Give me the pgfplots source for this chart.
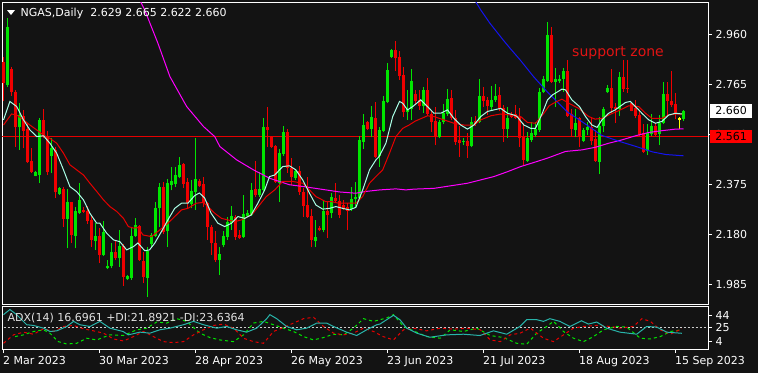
\documentclass[border=0pt]{standalone}
\usepackage{pgfplots}
\pgfplotsset{compat=1.18}
\usepackage{pgfplotstable}
\usepackage{fontspec}
\setmainfont{DejaVu Sans}
\definecolor{bg}{RGB}{19,19,19}
\definecolor{bullc}{RGB}{0,230,0}
\definecolor{bearc}{RGB}{240,0,0}
\definecolor{maw}{RGB}{170,255,230}
\definecolor{mar}{RGB}{230,0,0}
\definecolor{mam}{RGB}{255,0,255}
\definecolor{mab}{RGB}{20,20,240}
\definecolor{adxc}{RGB}{40,180,170}
\definecolor{pdi}{RGB}{0,230,0}
\definecolor{mdi}{RGB}{230,0,0}
\definecolor{dojic}{RGB}{255,255,0}
\newcommand\fs{\fontsize{11bp}{13bp}\selectfont}

\pgfplotstableread{
i O H L C
1 2.762 3.021 2.755 2.989
4 2.596 2.690 2.508 2.645
8 2.408 2.425 2.405 2.420
9 2.411 2.632 2.378 2.625
12 2.486 2.553 2.417 2.517
14 2.337 2.365 2.333 2.359
16 2.238 2.355 2.124 2.304
18 2.174 2.287 2.124 2.268
19 2.261 2.378 2.258 2.313
23 2.154 2.222 2.118 2.173
25 2.099 2.232 2.095 2.189
26 2.046 2.079 2.043 2.056
27 2.056 2.144 2.046 2.108
29 2.085 2.196 2.053 2.134
31 2.004 2.020 2.000 2.018
32 2.008 2.209 2.001 2.173
33 2.173 2.241 2.170 2.215
36 2.010 2.131 1.936 2.113
37 2.141 2.183 2.131 2.176
38 2.173 2.306 2.170 2.280
39 2.280 2.380 2.209 2.365
41 2.190 2.393 2.131 2.378
42 2.370 2.443 2.350 2.388
43 2.374 2.443 2.365 2.410
44 2.404 2.482 2.397 2.450
47 2.297 2.391 2.280 2.348
48 2.345 2.554 2.274 2.394
54 2.079 2.131 2.020 2.101
55 2.137 2.190 2.128 2.174
56 2.170 2.248 2.157 2.226
57 2.222 2.290 2.196 2.251
60 2.170 2.332 2.166 2.257
61 2.252 2.274 2.248 2.261
62 2.255 2.378 2.252 2.352
64 2.332 2.423 2.326 2.356
65 2.352 2.631 2.346 2.596
69 2.378 2.511 2.306 2.495
70 2.492 2.602 2.485 2.577
73 2.398 2.430 2.391 2.425
78 2.151 2.235 2.131 2.167
80 2.196 2.313 2.186 2.268
82 2.261 2.339 2.241 2.326
87 2.277 2.365 2.271 2.316
88 2.316 2.384 2.287 2.326
89 2.322 2.563 2.313 2.547
90 2.540 2.648 2.511 2.605
92 2.590 2.680 2.560 2.635
94 2.486 2.596 2.443 2.586
95 2.583 2.719 2.579 2.699
96 2.696 2.846 2.690 2.820
97 2.872 2.900 2.866 2.898
101 2.654 2.742 2.625 2.668
102 2.667 2.823 2.625 2.775
105 2.680 2.755 2.651 2.742
109 2.557 2.625 2.553 2.618
110 2.616 2.686 2.609 2.651
111 2.648 2.746 2.641 2.707
115 2.537 2.553 2.527 2.543
117 2.524 2.638 2.518 2.616
119 2.616 2.785 2.612 2.719
122 2.677 2.758 2.664 2.703
123 2.703 2.765 2.696 2.719
126 2.590 2.677 2.556 2.634
131 2.465 2.579 2.462 2.556
132 2.547 2.615 2.540 2.573
133 2.566 2.618 2.560 2.588
134 2.586 2.748 2.579 2.733
135 2.732 2.797 2.729 2.784
136 2.778 3.008 2.774 2.956
138 2.774 2.826 2.677 2.785
139 2.775 2.800 2.770 2.785
140 2.785 2.826 2.735 2.816
143 2.586 2.667 2.560 2.612
145 2.544 2.592 2.540 2.586
146 2.586 2.618 2.566 2.599
149 2.462 2.638 2.414 2.600
150 2.600 2.677 2.576 2.668
151 2.732 2.762 2.729 2.751
154 2.667 2.810 2.641 2.794
161 2.502 2.609 2.488 2.573
162 2.570 2.648 2.562 2.602
164 2.570 2.644 2.527 2.612
165 2.612 2.774 2.609 2.726
170 2.629 2.665 2.622 2.660
}\bulldata

\pgfplotstableread{
i O H L C
0 2.850 2.870 2.700 2.770
2 2.823 2.830 2.720 2.732
3 2.735 2.740 2.521 2.596
5 2.641 2.664 2.514 2.583
6 2.589 2.612 2.456 2.459
7 2.465 2.514 2.417 2.420
10 2.625 2.668 2.553 2.560
11 2.563 2.580 2.410 2.420
13 2.508 2.521 2.320 2.342
15 2.356 2.365 2.209 2.238
17 2.303 2.305 2.144 2.177
20 2.274 2.287 2.261 2.265
21 2.268 2.290 2.220 2.229
22 2.235 2.254 2.131 2.157
24 2.173 2.203 2.066 2.099
28 2.108 2.157 2.079 2.085
30 2.134 2.140 1.978 2.014
34 2.212 2.215 2.076 2.079
35 2.076 2.110 1.988 2.011
40 2.365 2.381 2.180 2.188
45 2.453 2.456 2.359 2.374
46 2.382 2.397 2.277 2.300
49 2.387 2.394 2.365 2.369
50 2.375 2.404 2.287 2.300
51 2.300 2.306 2.157 2.209
52 2.209 2.216 2.098 2.144
53 2.144 2.190 2.072 2.079
58 2.248 2.254 2.157 2.170
59 2.176 2.196 2.160 2.166
63 2.355 2.463 2.326 2.331
66 2.596 2.677 2.521 2.586
67 2.557 2.563 2.515 2.521
68 2.524 2.527 2.378 2.381
71 2.577 2.589 2.417 2.437
72 2.437 2.476 2.371 2.404
74 2.425 2.446 2.332 2.342
75 2.342 2.358 2.248 2.290
76 2.294 2.404 2.241 2.248
77 2.251 2.277 2.128 2.157
79 2.204 2.212 2.190 2.196
81 2.268 2.306 2.166 2.255
83 2.320 2.378 2.303 2.307
84 2.309 2.332 2.241 2.255
85 2.293 2.313 2.274 2.278
86 2.287 2.300 2.196 2.271
91 2.616 2.621 2.586 2.590
93 2.631 2.694 2.475 2.482
98 2.898 2.933 2.816 2.865
99 2.869 2.892 2.781 2.798
100 2.800 2.833 2.638 2.654
103 2.726 2.742 2.683 2.700
104 2.703 2.742 2.664 2.680
106 2.742 2.788 2.641 2.648
107 2.648 2.664 2.576 2.618
108 2.622 2.677 2.527 2.557
112 2.712 2.742 2.625 2.631
113 2.631 2.664 2.527 2.540
114 2.547 2.602 2.482 2.534
116 2.543 2.573 2.478 2.524
118 2.621 2.641 2.602 2.608
120 2.719 2.752 2.677 2.699
121 2.703 2.713 2.644 2.680
124 2.722 2.752 2.658 2.667
125 2.670 2.683 2.540 2.590
127 2.648 2.654 2.631 2.638
128 2.647 2.683 2.628 2.634
129 2.638 2.670 2.521 2.556
130 2.563 2.612 2.446 2.469
137 2.956 2.989 2.768 2.774
141 2.814 2.859 2.638 2.641
142 2.648 2.667 2.560 2.589
144 2.631 2.638 2.518 2.563
147 2.599 2.631 2.527 2.544
148 2.551 2.586 2.462 2.465
152 2.749 2.824 2.651 2.673
153 2.677 2.690 2.612 2.668
155 2.794 2.859 2.735 2.745
156 2.751 2.859 2.729 2.745
157 2.690 2.696 2.658 2.661
158 2.673 2.703 2.631 2.641
159 2.644 2.664 2.562 2.566
160 2.573 2.609 2.495 2.501
163 2.603 2.612 2.562 2.566
166 2.726 2.771 2.644 2.699
167 2.699 2.816 2.677 2.683
168 2.686 2.729 2.628 2.648
}\beardata

\pgfplotstableread{
i O H L C
169 2.6265 2.635 2.589 2.6305
}\dojidata

\pgfplotsset{
  wick/.style={only marks, mark=*, mark size=0pt, mark options={draw=none, fill=none}, forget plot,
    error bars/.cd, y dir=plus, y explicit, error mark=none,
    error bar style={line width=1bp, solid}},
  body/.style={only marks, mark=*, mark size=0pt, mark options={draw=none, fill=none}, forget plot,
    error bars/.cd, y dir=plus, y explicit, error mark=none,
    error bar style={line width=3bp, solid}},
}

\begin{document}
\begin{tikzpicture}
\useasboundingbox (0,0) rectangle (758bp,-373bp);
\fill[bg] (0,0) rectangle (758bp,-373bp);

\begin{axis}[
  at={(2bp,-2bp)}, anchor=north west,
  scale only axis, width=706bp, height=302bp,
  xmin=-0.375, xmax=176.125, ymin=1.907, ymax=3.0848,
  axis line style={white, line width=1bp},
  xtick=\empty,
  ytick={1.985,2.180,2.375,2.570,2.765,2.960},
  yticklabels={1.985,2.180,2.375,2.570,2.765,2.960},
  ytick pos=right, yticklabel pos=right,
  tick align=outside, major tick length=4bp,
  tick style={white, line width=1bp},
  yticklabel style={font=\fs, text=white, anchor=west},
  clip mode=individual,
]
\addplot[mar, line width=1bp, forget plot] coordinates {(-1,2.561) (177,2.561)};

\addplot[bullc, wick] table[x=i, y=L, y error expr=\thisrow{H}-\thisrow{L}] {\bulldata};
\addplot[bullc, body] table[x=i, y=O, y error expr=\thisrow{C}-\thisrow{O}] {\bulldata};
\addplot[bearc, wick] table[x=i, y=L, y error expr=\thisrow{H}-\thisrow{L}] {\beardata};
\addplot[bearc, body] table[x=i, y=C, y error expr=\thisrow{O}-\thisrow{C}] {\beardata};
\addplot[dojic, wick] table[x=i, y=L, y error expr=\thisrow{H}-\thisrow{L}] {\dojidata};
\addplot[dojic, body] table[x=i, y=O, y error expr=\thisrow{C}-\thisrow{O}] {\dojidata};

% long MA (magenta)
\addplot[mam, line width=1bp] coordinates {
(33.5,3.11)(35.3,3.054)(38.6,2.924)(41.6,2.794)(45.8,2.677)(50,2.599)(52.8,2.56)(54.1,2.521)(58.3,2.469)(62.5,2.43)(66.6,2.397)(71.5,2.372)(75,2.365)(80.6,2.352)(84,2.344)(88.1,2.339)(90.6,2.346)(94.1,2.352)(98.1,2.356)(100.6,2.352)(102.6,2.355)(107.6,2.358)(111.8,2.368)(116,2.378)(119.3,2.391)(122.6,2.404)(126,2.423)(129.3,2.443)(132.6,2.459)(136,2.476)(140.5,2.502)(144.6,2.508)(147.9,2.518)(151.3,2.534)(154.6,2.547)(158,2.563)(161.3,2.576)(164.6,2.583)(168,2.589)(170,2.59)};
% blue line
\addplot[mab, line width=1bp] coordinates {
(117.5,3.10)(119.3,3.054)(121.6,3.002)(124.9,2.937)(126.6,2.905)(129.1,2.86)(132.5,2.794)(135.9,2.735)(137.5,2.71)(141,2.655)(143.5,2.63)(146.3,2.60)(149.5,2.565)(153.8,2.542)(158,2.522)(162.3,2.50)(165.6,2.49)(170,2.485)};
% red MA
\addplot[mar, line width=1bp] coordinates {
(0,2.605)(2,2.648)(3.3,2.644)(5,2.625)(6.6,2.605)(8.3,2.586)(10,2.566)(11.6,2.553)(13.3,2.534)(15,2.495)(16.6,2.45)(18.3,2.43)(20,2.41)(21.6,2.378)(23.3,2.346)(25,2.313)(26.6,2.287)(28.3,2.268)(30,2.241)(31.2,2.209)(32.5,2.203)(33.6,2.205)(34.9,2.176)(37,2.17)(38.6,2.19)(41.1,2.222)(42.8,2.248)(44.5,2.274)(46.1,2.28)(48.2,2.30)(49.9,2.303)(51.1,2.287)(52.8,2.261)(54.5,2.241)(56.1,2.235)(57.8,2.228)(59.5,2.235)(61.1,2.248)(62.4,2.261)(64,2.293)(65.7,2.326)(67.8,2.352)(69.8,2.385)(72.3,2.385)(74.8,2.378)(76.5,2.352)(78.1,2.326)(80.6,2.306)(82.1,2.306)(83.8,2.30)(86.5,2.30)(88.1,2.30)(89.8,2.326)(91.5,2.378)(93.1,2.404)(94.8,2.43)(96.5,2.495)(98.1,2.56)(99.8,2.592)(101.4,2.605)(102.9,2.62)(106,2.641)(107.6,2.638)(110.1,2.625)(112.6,2.612)(115.1,2.605)(117.6,2.605)(119.3,2.625)(121.8,2.641)(124.3,2.648)(126.8,2.644)(129.3,2.638)(131,2.615)(133,2.612)(135.1,2.651)(136.4,2.68)(137.5,2.69)(139.6,2.706)(141.3,2.69)(143.8,2.67)(146.3,2.638)(147.9,2.628)(149.6,2.631)(151.3,2.644)(153.8,2.661)(156.3,2.68)(158.8,2.677)(160.5,2.651)(162.1,2.631)(164.6,2.631)(166.3,2.644)(168,2.648)(169.6,2.648)};
% fast MA (light)
\addplot[maw, line width=1bp] coordinates {
(0,2.625)(1.6,2.697)(3.3,2.677)(5,2.625)(6.6,2.586)(8.3,2.56)(10,2.563)(11.6,2.534)(13.3,2.495)(15,2.43)(16.6,2.365)(18.3,2.345)(20,2.313)(21.6,2.261)(23.3,2.222)(24.1,2.222)(25.8,2.183)(27.5,2.157)(29.1,2.15)(30.8,2.118)(32.5,2.131)(33.6,2.145)(35.3,2.115)(36.5,2.118)(37.8,2.144)(39.5,2.19)(41.1,2.235)(42.8,2.28)(44.5,2.30)(46.1,2.30)(47.8,2.33)(49,2.34)(50.3,2.32)(51.9,2.261)(53.6,2.222)(55.3,2.209)(57,2.222)(58.6,2.248)(60.3,2.241)(61.9,2.254)(63.6,2.30)(65.3,2.352)(66.5,2.404)(67.8,2.41)(69.8,2.443)(71.5,2.446)(73.1,2.43)(74.8,2.391)(76.5,2.339)(78.1,2.293)(79.8,2.277)(81.5,2.28)(83.1,2.287)(84.8,2.28)(86.5,2.274)(88.1,2.284)(89.8,2.352)(91.5,2.43)(93.1,2.469)(93.9,2.482)(95.6,2.534)(97.3,2.638)(99,2.697)(99.8,2.69)(101,2.664)(102.3,2.677)(104.3,2.703)(106,2.677)(107.6,2.651)(109.3,2.651)(111,2.664)(112.6,2.631)(114.3,2.605)(116,2.589)(117.6,2.605)(119.3,2.638)(121,2.658)(122.6,2.664)(124.3,2.67)(126,2.651)(127.6,2.644)(128.4,2.638)(130.1,2.605)(131.8,2.592)(133,2.592)(134.7,2.651)(136,2.703)(137.2,2.722)(139.6,2.745)(140.5,2.742)(142.1,2.703)(144,2.677)(145.5,2.638)(147.1,2.605)(148.4,2.596)(149.6,2.625)(151.3,2.651)(152.9,2.664)(155.5,2.693)(156.7,2.697)(158,2.677)(159.6,2.651)(161.3,2.625)(163,2.612)(164.6,2.619)(166.3,2.644)(168,2.651)(169.6,2.648)};

\node[fill=white, text=black, font=\fs, minimum width=42bp, minimum height=13.5bp, inner sep=0pt, anchor=west, xshift=2bp] at (axis cs:176.125,2.660) {2.660};
\node[fill=red, text=black, font=\fs, minimum width=42bp, minimum height=13.5bp, inner sep=0pt, anchor=west, xshift=2bp] at (axis cs:176.125,2.561) {2.561};
\end{axis}

\begin{axis}[
  at={(2bp,-306.5bp)}, anchor=north west,
  scale only axis, width=706bp, height=42.5bp,
  xmin=-0.375, xmax=176.125, ymin=-7.2, ymax=57.4,
  axis line style={white, line width=1bp},
  xtick={-0.1,23.9,47.9,71.9,95.9,119.9,143.9,167.9},
  xticklabels={2 Mar 2023,30 Mar 2023,28 Apr 2023,26 May 2023,23 Jun 2023,21 Jul 2023,18 Aug 2023,15 Sep 2023},
  xtick pos=left,
  xticklabel style={font=\fs, text=white, anchor=north west, xshift=-3.5bp},
  ytick={4,25,44}, yticklabels={4,25,44},
  ytick pos=right, yticklabel pos=right,
  tick align=outside, major tick length=4bp,
  tick style={white, line width=1bp},
  yticklabel style={font=\fs, text=white, anchor=west},
]
\addplot[white!80!black, line width=1bp, dash pattern=on 2bp off 2bp] coordinates {(-1,25) (177,25)};
\addplot[pdi, line width=1bp, dash pattern=on 3bp off 3bp] coordinates {
(2.9,11.7)(5,14.3)(7.5,19.4)(10,22)(11.6,16.9)(13.7,4)(15.8,0.4)(18.3,1.5)(20.8,9.2)(23.3,6.6)(26.6,14.3)(30,13.3)(33.3,22)(35.8,24.5)(38.3,33.8)(40.8,32.2)(43.3,38.9)(45.8,34.8)(49.1,16.9)(51.6,10.2)(54.1,6.6)(57.5,4)(60,14.3)(62.5,32.2)(65,34.8)(67.5,29.7)(70,24.5)(72.5,19.4)(75,11.7)(77.5,6.6)(80,10.2)(82.5,15.3)(85,14.3)(87.5,24.5)(90,38.9)(92.5,34.8)(95.8,40)(97.5,45)(100,27.1)(102.5,20.4)(105.8,11.7)(109.2,9.2)(111.7,22)(115,19.4)(118.3,24.5)(121.7,13.3)(125,10.2)(128.3,1.5)(130.8,0)(133.3,16.9)(135.8,27.1)(137.5,34.8)(140,19.4)(142.5,9.2)(145,4)(147.5,11.7)(150,22)(153.3,27.1)(155.8,26.1)(159.2,9.2)(161.7,8.1)(164.2,11.7)(166.7,19.4)(169.6,21.9)};
\addplot[mdi, line width=1bp, dash pattern=on 3bp off 3bp] coordinates {
(0,1.5)(2.5,14.3)(5,18.4)(7.5,15.3)(10,23.5)(12.5,19.4)(15,27.1)(17.5,28.6)(20,23.5)(22.5,20.4)(25,16.9)(27.5,8.1)(30,5)(32.5,11.7)(35,19.4)(37.5,11.7)(40,4)(42.5,2.5)(45,4)(47.5,14.3)(50,22)(52.5,28.6)(55,30.7)(57.5,24.5)(60,9.2)(62.5,4)(65,1.5)(67.5,19.4)(70,25.6)(72.5,32.2)(75,38.9)(77.5,41)(80,27.1)(82.5,16.9)(85,14.3)(87.5,16.9)(90,24.5)(92.5,19.4)(94.9,11.7)(97.5,6.6)(100,22)(102.5,24.5)(105.8,20.4)(109.2,24.5)(112.5,23)(115.8,24.5)(119.2,22)(121.7,6.6)(124.2,4)(126.7,14.3)(129.2,16.9)(131.7,24.5)(135,9.2)(137.5,4)(140,14.3)(142.5,24.5)(145,27.1)(148.3,28.6)(151.7,27.1)(154.2,24.5)(157.5,27.1)(159.6,38.9)(161.7,34.8)(164.2,22)(166.7,15.3)(169.6,23.6)};
\addplot[adxc, line width=1bp] coordinates {
(0,45)(1.6,52.8)(3.3,45)(5.8,29.7)(7.5,28.6)(10,24.5)(11.6,19.4)(13.3,20.4)(15.8,27)(17.5,34.8)(19.1,29.7)(21.6,27)(24.1,34.8)(26.6,24.5)(29.9,19.4)(31.2,14.3)(34.1,18.4)(36.6,16.9)(39.1,22)(41.6,24.5)(45,29.7)(47.5,34.8)(50,29.7)(53.3,24.5)(55.8,27)(58.3,22)(60.8,18.4)(63.3,24.5)(65.8,38.9)(66.6,45)(68.3,38.9)(70.8,27)(73.3,22)(75.8,24.5)(78.3,32.2)(80.8,32.2)(82.5,27)(85.8,18.4)(88.3,13.3)(90.8,22)(93.3,29.7)(94.1,30.7)(97.5,44)(99.1,37.4)(100.8,24.5)(103.3,16.9)(106.6,10.7)(110.8,14.3)(115,15.3)(119.1,13.3)(122.5,20.4)(125.8,15.3)(129.1,27)(130.8,37.4)(133.3,37.4)(135,34.8)(136.6,38.9)(139.1,34.8)(141.6,27)(144.5,35.8)(146.2,30.7)(148.3,33.8)(150.8,24.5)(154.1,18.4)(158.3,15.3)(160.8,27)(163.3,26.1)(165.8,18.4)(169.6,16.7)};
\end{axis}

% header and annotations
\fill[white] (7bp,-10bp) -- (15bp,-10bp) -- (11bp,-15bp) -- cycle;
\node[anchor=base west, inner sep=0pt, text=white, font=\fs] at (20.5bp,-16.5bp) {NGAS,Daily\hspace{7bp}2.629 2.665 2.622 2.660};
\node[anchor=base west, inner sep=0pt, text={rgb,255:red,225;green,20;blue,20}, font=\fontsize{14bp}{16bp}\selectfont] at (572bp,-56.5bp) {support zone};
\node[anchor=base west, inner sep=0pt, text={rgb,255:red,225;green,225;blue,225}, font=\fs] at (7.5bp,-321bp) {ADX(14) 16.6961 +DI:21.8921 -DI:23.6364};
\end{tikzpicture}
\end{document}
